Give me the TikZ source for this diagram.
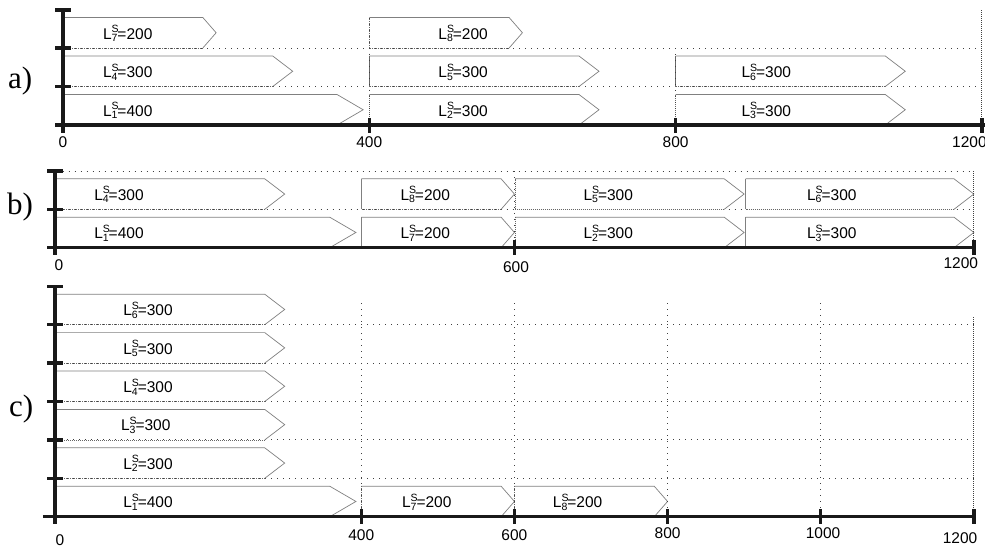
\documentclass[tikz,border=0pt]{standalone}
\usepackage{fontspec}
\setmainfont{Liberation Sans}
\newfontfamily\panelfont{Liberation Serif}
\tikzset{
  axisline/.style={line width=3.3pt, black!90},
  boxedge/.style={line width=0.7pt, black!50},
  boxbase/.style={line width=0.7pt, black!60, dash pattern=on 1.2pt off 0.8pt},
  gridline/.style={line width=1pt, black!75, dash pattern=on 1pt off 5pt},
  densegrid/.style={line width=0.8pt, black!75, dash pattern=on 1pt off 1pt},
  lbl/.style={font=\fontsize{15.5}{16}\selectfont, inner sep=0pt, anchor=base west},
  ticklbl/.style={font=\fontsize{15.5}{16}\selectfont, inner sep=0pt, anchor=base},
  panellbl/.style={font=\panelfont\fontsize{31}{31}\selectfont, inner sep=0pt, anchor=base west},
}
\newcommand\lab[2]{L\rlap{\raisebox{6.5pt}{\fontsize{10.5}{10.5}\selectfont S}}\raisebox{-2.5pt}{\fontsize{10.5}{10.5}\selectfont #1}=#2}
% #1 name, #2 start, #3 tip, #4 ybottom, #5 subscript, #6 value, #7 label x, #8 left edge style
\newcommand\tbox[8]{%
  \pgfmathsetmacro\tipl{(#3-#2)/11.5}%
  \pgfmathsetmacro\rend{#3-\tipl}%
  \draw[boxedge] (#2,#4-30.5) -- (\rend,#4-30.5) -- (#3,#4-15.25) -- (\rend,#4);
  \draw[boxbase] (\rend,#4) -- (#2,#4);
  \draw[#8] (#2,#4) -- (#2,#4-30.5);
  \node[lbl] (#1) at (#7,#4-9) {\lab{#5}{#6}};
}
\begin{document}
\begin{tikzpicture}[x=1pt,y=-1pt]
\useasboundingbox (0,0) rectangle (985,547);
\fill[white] (0,0) rectangle (985,547);

% ---------------- panel a ----------------
\node[panellbl] (pa) at (8,88) {a)};
\begin{scope}[xshift=63pt, x=0.7657pt]
  \draw[gridline] (0,48) -- (1204,48);
  \draw[gridline] (0,86.5) -- (1204,86.5);
  \tbox{aL1}{0}{392}{125}{1}{400}{52}{boxedge}
  \tbox{aL2}{400}{700}{125}{2}{300}{490}{boxbase}
  \tbox{aL3}{800}{1100}{125}{3}{300}{886}{boxbase}
  \tbox{aL4}{0}{300}{86.5}{4}{300}{52}{boxedge}
  \tbox{aL5}{400}{700}{86.5}{5}{300}{490}{boxbase}
  \tbox{aL6}{800}{1100}{86.5}{6}{300}{886}{boxbase}
  \tbox{aL7}{0}{200}{48}{7}{200}{52}{boxedge}
  \tbox{aL8}{400}{600}{48}{8}{200}{490}{boxbase}
  \draw[gridline] (400,17.5) -- (400,125);
  \draw[gridline] (800,48) -- (800,125);
  \draw[densegrid] (1200,10) -- (1200,125);
  \draw[axisline] (0,10) -- (0,133);
  \foreach \yy in {10,48,86.5} \draw[axisline] (-10.4,\yy) -- (10.4,\yy);
  \draw[axisline] (-10.4,125) -- (1210,125);
  \foreach \xx in {400,800,1200} \draw[axisline] (\xx,118) -- (\xx,133);
  \node[ticklbl] (a0) at (0,147) {0};
  \node[ticklbl] (a400) at (400,147) {400};
  \node[ticklbl] (a800) at (800,147) {800};
  \node[ticklbl, anchor=base west] (a1200) at (1161,147) {1200};
\end{scope}

% ---------------- panel b ----------------
\node[panellbl] (pb) at (7,214) {b)};
\begin{scope}[xshift=55pt, x=0.7657pt]
  \draw[gridline] (10,171) -- (1200,171);
  \draw[gridline] (10,209.3) -- (1200,209.3);
  \tbox{bL1}{0}{393}{247.7}{1}{400}{51}{boxedge}
  \tbox{bL7}{400}{600}{247.7}{7}{200}{451}{boxedge}
  \tbox{bL2}{601}{900}{247.7}{2}{300}{690}{boxbase}
  \tbox{bL3}{902}{1200}{247.7}{3}{300}{982}{boxedge}
  \tbox{bL4}{0}{300}{209.3}{4}{300}{51}{boxedge}
  \tbox{bL8}{400}{600}{209.3}{8}{200}{451}{boxedge}
  \tbox{bL5}{601}{900}{209.3}{5}{300}{690}{boxbase}
  \tbox{bL6}{902}{1200}{209.3}{6}{300}{982}{boxedge}
  \draw[gridline] (600,171) -- (600,247.7);
  \draw[densegrid] (1200,171) -- (1200,247.7);
  \draw[axisline] (0,171) -- (0,255);
  \foreach \yy in {171,209.3} \draw[axisline] (-10.4,\yy) -- (10.4,\yy);
  \draw[axisline] (-10.4,247.7) -- (1200,247.7);
  \foreach \xx in {600,1200} \draw[axisline] (\xx,240) -- (\xx,255);
  \node[ticklbl] (b0) at (5,270) {0};
  \node[ticklbl] (b600) at (602,272) {600};
  \node[ticklbl] (b1200) at (1183,268) {1200};
\end{scope}

% ---------------- panel c ----------------
\node[panellbl] (pc) at (9,416) {c)};
\begin{scope}[xshift=55pt, x=0.7657pt]
  \foreach \yy in {324.7,363.1,401.5,439.9,478.3} \draw[gridline] (0,\yy) -- (1200,\yy);
  \tbox{cL1}{0}{393}{516.7}{1}{400}{89}{boxedge}
  \tbox{cL7}{400}{600}{516.7}{7}{200}{453}{boxbase}
  \tbox{cL8}{600}{800}{516.7}{8}{200}{650}{boxbase}
  \tbox{cL2}{0}{300}{478.3}{2}{300}{89}{boxedge}
  \tbox{cL3}{0}{300}{439.9}{3}{300}{86}{boxedge}
  \tbox{cL4}{0}{300}{401.5}{4}{300}{89}{boxedge}
  \tbox{cL5}{0}{300}{363.1}{5}{300}{89}{boxedge}
  \tbox{cL6}{0}{300}{324.7}{6}{300}{89}{boxedge}
  \foreach \xx in {400,600,800,1000} \draw[gridline] (\xx,303) -- (\xx,516.7);
  \draw[densegrid] (1200,317) -- (1200,516.7);
  \draw[axisline] (0,286.3) -- (0,524);
  \foreach \yy in {286.3,324.7,363.1,401.5,439.9,478.3} \draw[axisline] (-10.4,\yy) -- (10.4,\yy);
  \draw[axisline] (-15.7,516.7) -- (1200,516.7);
  \foreach \xx in {400,600,800,1000,1200} \draw[axisline] (\xx,509) -- (\xx,524);
  \node[ticklbl] (c0) at (6.5,545) {0};
  \node[ticklbl] (c400) at (400,540) {400};
  \node[ticklbl] (c600) at (600,540) {600};
  \node[ticklbl] (c800) at (800,538) {800};
  \node[ticklbl] (c1000) at (1003,538) {1000};
  \node[ticklbl] (c1200) at (1182,543) {1200};
\end{scope}
\end{tikzpicture}
\end{document}
